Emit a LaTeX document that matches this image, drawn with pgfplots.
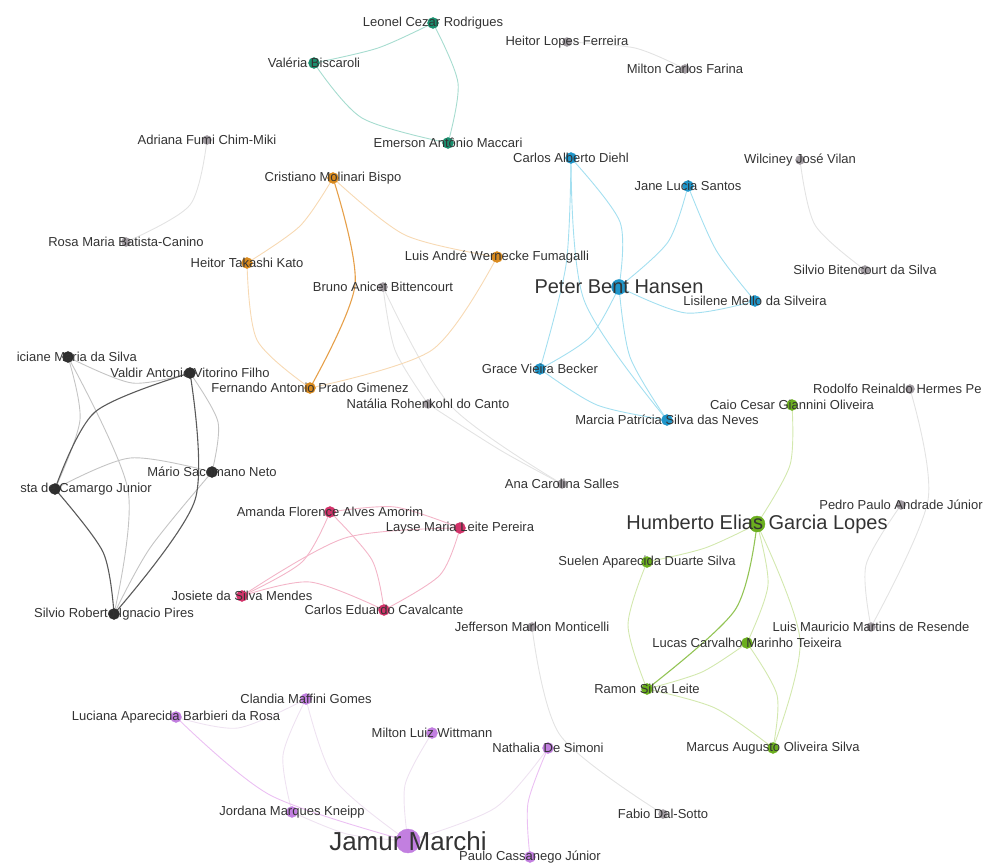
\documentclass[border=0pt]{standalone}
\usepackage{fontspec}
\setmainfont{Liberation Sans}
\usepackage{pgfplots}
\usepackage{pgfplotstable}
\pgfplotsset{compat=1.18}

% node colours
\definecolor{tealN}{HTML}{1A8F6E}
\definecolor{orangeN}{HTML}{D98A1E}
\definecolor{blueN}{HTML}{1F95C9}
\definecolor{blackN}{HTML}{2E2E2E}
\definecolor{pinkN}{HTML}{D2336A}
\definecolor{greenN}{HTML}{6BAE1E}
\definecolor{purpleN}{HTML}{C27FE0}
\definecolor{grayN}{HTML}{A39DA3}
% edge colours
\definecolor{tealE}{HTML}{A6DCCF}
\definecolor{orangeD}{HTML}{E6A04A}
\definecolor{orangeL}{HTML}{F7D9B3}
\definecolor{blueE}{HTML}{A3DFF0}
\definecolor{blackD}{HTML}{5A5A5A}
\definecolor{blackL}{HTML}{C4C4C4}
\definecolor{pinkE}{HTML}{F3B5C8}
\definecolor{greenD}{HTML}{93C455}
\definecolor{greenL}{HTML}{D3E8AE}
\definecolor{purpleD}{HTML}{EBC0F3}
\definecolor{purpleL}{HTML}{EEE2F1}
\definecolor{grayE}{HTML}{E3E3E3}
\definecolor{labc}{HTML}{333333}

% nodes: pixel position, label centred on the node
\pgfplotstableread{
x y label
433 23 {Leonel Cezar Rodrigues}
314 63 {Valéria Biscaroli}
448 143 {Emerson Antônio Maccari}
}\tTeal
\pgfplotstableread{
x y label
567 42 {Heitor Lopes Ferreira}
685 69 {Milton Carlos Farina}
207 140 {Adriana Fumi Chim-Miki}
126 242 {Rosa Maria Batista-Canino}
800 160 {Wilciney José Vilan}
865 270 {Silvio Bitencourt da Silva}
383 287 {Bruno Anicet Bittencourt}
428 404 {Natália Rohenkohl do Canto}
562 484 {Ana Carolina Salles}
901 505 {Pedro Paulo Andrade Júnior}
871 627 {Luis Mauricio Martins de Resende}
532 627 {Jefferson Marlon Monticelli}
663 814 {Fabio Dal-Sotto}
}\tGray
\pgfplotstableread{
x y label
333 178 {Cristiano Molinari Bispo}
247 263 {Heitor Takashi Kato}
497 257 {Luis André Wernecke Fumagalli}
310 388 {Fernando Antonio Prado Gimenez}
}\tOrange
\pgfplotstableread{
x y label
571 158 {Carlos Alberto Diehl}
688 186 {Jane Lucia Santos}
755 301 {Lisilene Mello da Silveira}
540 369 {Grace Vieira Becker}
667 420 {Marcia Patrícia Silva das Neves}
}\tBlue
\pgfplotstableread{
x y label
190 373 {Valdir Antonio Vitorino Filho}
212 472 {Mário Sacomano Neto}
114 614 {Silvio Roberto Ignacio Pires}
}\tBlack
\pgfplotstableread{
x y label
330 512 {Amanda Florence Alves Amorim}
460 528 {Layse Maria Leite Pereira}
242 596 {Josiete da Silva Mendes}
384 610 {Carlos Eduardo Cavalcante}
}\tPink
\pgfplotstableread{
x y label
792 405 {Caio Cesar Giannini Oliveira}
647 562 {Suelen Aparecida Duarte Silva}
747 643 {Lucas Carvalho Marinho Teixeira}
647 689 {Ramon Silva Leite}
773 748 {Marcus Augusto Oliveira Silva}
}\tGreen
\pgfplotstableread{
x y label
306 699 {Clandia Maffini Gomes}
176 717 {Luciana Aparecida Barbieri da Rosa}
432 733 {Milton Luiz Wittmann}
548 748 {Nathalia De Simoni}
292 812 {Jordana Marques Kneipp}
530 857 {Paulo Cassanego Júnior}
}\tPurple

\pgfplotsset{
  edge/.style={smooth, mark=none, line width=0.9pt, draw=#1},
  nd/.style={only marks, mark=*, color=#1, mark size=5.5pt},
  lab/.style={only marks, mark=none, nodes near coords, point meta=explicit symbolic,
    every node near coord/.append style={anchor=center, inner sep=0pt, text=labc,
      font=\fontsize{13}{15}\selectfont}},
}

\begin{document}
\begin{tikzpicture}
\begin{axis}[
    width=990pt, height=864pt, scale only axis,
    xmin=0, xmax=990, ymin=0, ymax=864, y dir=reverse,
    hide axis, clip=false,
]
% ---- edges ----
\addplot[edge=tealE] coordinates {(433,23)(378,48)(314,63)};
\addplot[edge=tealE] coordinates {(433,23)(458,83)(448,143)};
\addplot[edge=tealE] coordinates {(314,63)(362,118)(448,143)};

\addplot[edge=grayE] coordinates {(567,42)(635,48)(685,69)};
\addplot[edge=grayE] coordinates {(207,140)(190,205)(126,242)};
\addplot[edge=grayE] coordinates {(800,160)(815,225)(865,270)};
\addplot[edge=grayE] coordinates {(383,287)(395,350)(428,404)};
\addplot[edge=grayE] coordinates {(383,287)(450,405)(562,484)};
\addplot[edge=grayE] coordinates {(428,404)(500,450)(562,484)};
\addplot[edge=grayE] coordinates {(910,389)(928,500)(871,627)};
\addplot[edge=grayE] coordinates {(901,505)(866,565)(871,627)};
\addplot[edge=grayE] coordinates {(532,627)(560,735)(663,814)};

\addplot[edge=orangeL] coordinates {(333,178)(300,226)(247,263)};
\addplot[edge=orangeL] coordinates {(247,263)(257,340)(310,388)};
\addplot[edge=orangeL] coordinates {(333,178)(405,235)(497,257)};
\addplot[edge=orangeL] coordinates {(497,257)(432,350)(310,388)};
\addplot[edge=orangeD, line width=1.1pt] coordinates {(333,178)(355,285)(310,388)};

\addplot[edge=blueE] coordinates {(571,158)(566,265)(540,369)};
\addplot[edge=blueE] coordinates {(571,158)(584,300)(667,420)};
\addplot[edge=blueE] coordinates {(571,158)(620,222)(619,287)};
\addplot[edge=blueE] coordinates {(688,186)(668,242)(619,287)};
\addplot[edge=blueE] coordinates {(688,186)(716,250)(755,301)};
\addplot[edge=blueE] coordinates {(619,287)(686,313)(755,301)};
\addplot[edge=blueE] coordinates {(619,287)(590,337)(540,369)};
\addplot[edge=blueE] coordinates {(619,287)(630,357)(667,420)};
\addplot[edge=blueE] coordinates {(540,369)(597,405)(667,420)};

\addplot[edge=blackL] coordinates {(68,357)(132,383)(190,373)};
\addplot[edge=blackL] coordinates {(68,357)(80,420)(55,489)};
\addplot[edge=blackL] coordinates {(68,357)(128,490)(114,614)};
\addplot[edge=blackL] coordinates {(190,373)(218,422)(212,472)};
\addplot[edge=blackL] coordinates {(55,489)(130,458)(212,472)};
\addplot[edge=blackL] coordinates {(212,472)(150,548)(114,614)};
\addplot[edge=blackD, line width=1.1pt] coordinates {(190,373)(95,412)(55,489)};
\addplot[edge=blackD, line width=1.1pt] coordinates {(190,373)(195,500)(114,614)};
\addplot[edge=blackD, line width=1.1pt] coordinates {(55,489)(103,552)(114,614)};

\addplot[edge=pinkE] coordinates {(330,512)(302,562)(242,596)};
\addplot[edge=pinkE] coordinates {(242,596)(345,538)(460,528)};
\addplot[edge=pinkE] coordinates {(330,512)(372,560)(384,610)};
\addplot[edge=pinkE] coordinates {(242,596)(310,582)(384,610)};
\addplot[edge=pinkE] coordinates {(384,610)(440,575)(460,528)};
\addplot[edge=pinkE] coordinates {(330,512)(395,507)(460,528)};

\addplot[edge=greenL] coordinates {(792,405)(790,465)(757,524)};
\addplot[edge=greenL] coordinates {(757,524)(705,548)(647,562)};
\addplot[edge=greenL] coordinates {(647,562)(628,625)(647,689)};
\addplot[edge=greenL] coordinates {(757,524)(768,585)(747,643)};
\addplot[edge=greenL] coordinates {(757,524)(800,640)(773,748)};
\addplot[edge=greenL] coordinates {(647,689)(702,672)(747,643)};
\addplot[edge=greenL] coordinates {(747,643)(777,695)(773,748)};
\addplot[edge=greenL] coordinates {(647,689)(715,708)(773,748)};
\addplot[edge=greenD, line width=1.1pt] coordinates {(757,524)(735,610)(647,689)};

\addplot[edge=purpleL] coordinates {(176,717)(238,728)(306,699)};
\addplot[edge=purpleL] coordinates {(306,699)(283,755)(292,812)};
\addplot[edge=purpleL] coordinates {(306,699)(335,780)(408,841)};
\addplot[edge=purpleL] coordinates {(432,733)(405,785)(408,841)};
\addplot[edge=purpleL] coordinates {(548,748)(495,808)(408,841)};
\addplot[edge=purpleD] coordinates {(548,748)(528,803)(530,857)};
\addplot[edge=purpleL] coordinates {(292,812)(347,834)(408,841)};
\addplot[edge=purpleD] coordinates {(176,717)(270,795)(408,841)};

% ---- nodes ----
\addplot[nd=tealN] table[x=x,y=y] {\tTeal};
\addplot[nd=grayN, mark size=4.5pt] table[x=x,y=y] {\tGray};
\addplot[nd=grayN, mark size=4.5pt] coordinates {(910,389)};
\addplot[nd=orangeN] table[x=x,y=y] {\tOrange};
\addplot[nd=blueN] table[x=x,y=y] {\tBlue};
\addplot[nd=blueN, mark size=7.5pt] coordinates {(619,287)};
\addplot[nd=blackN] table[x=x,y=y] {\tBlack};
\addplot[nd=blackN] coordinates {(68,357)(55,489)};
\addplot[nd=pinkN] table[x=x,y=y] {\tPink};
\addplot[nd=greenN] table[x=x,y=y] {\tGreen};
\addplot[nd=greenN, mark size=8pt] coordinates {(757,524)};
\addplot[nd=purpleN] table[x=x,y=y] {\tPurple};
\addplot[nd=purpleN, mark size=12pt] coordinates {(408,841)};

% ---- labels ----
\addplot[lab] table[x=x,y=y,meta=label] {\tTeal};
\addplot[lab] table[x=x,y=y,meta=label] {\tGray};
\addplot[lab] table[x=x,y=y,meta=label] {\tOrange};
\addplot[lab] table[x=x,y=y,meta=label] {\tBlue};
\addplot[lab] table[x=x,y=y,meta=label] {\tBlack};
\addplot[lab] table[x=x,y=y,meta=label] {\tPink};
\addplot[lab] table[x=x,y=y,meta=label] {\tGreen};
\addplot[lab] table[x=x,y=y,meta=label] {\tPurple};
% labels cut by the picture edge
\addplot[lab, every node near coord/.append style={anchor=east}] coordinates {(137,357)[iciane Maria da Silva] (152,489)[sta de Camargo Junior]};
\addplot[lab, every node near coord/.append style={anchor=west}] coordinates {(813,389)[Rodolfo Reinaldo Hermes Pe]};
% big nodes
\addplot[lab, every node near coord/.append style={font=\fontsize{20}{22}\selectfont}] coordinates {(619,287)[Peter Bent Hansen] (757,524)[Humberto Elias Garcia Lopes]};
\addplot[lab, every node near coord/.append style={font=\fontsize{26}{28}\selectfont}] coordinates {(408,841)[Jamur Marchi]};
\end{axis}
\pgfresetboundingbox
\useasboundingbox (current axis.south west) rectangle (current axis.north east);
\end{tikzpicture}
\end{document}
